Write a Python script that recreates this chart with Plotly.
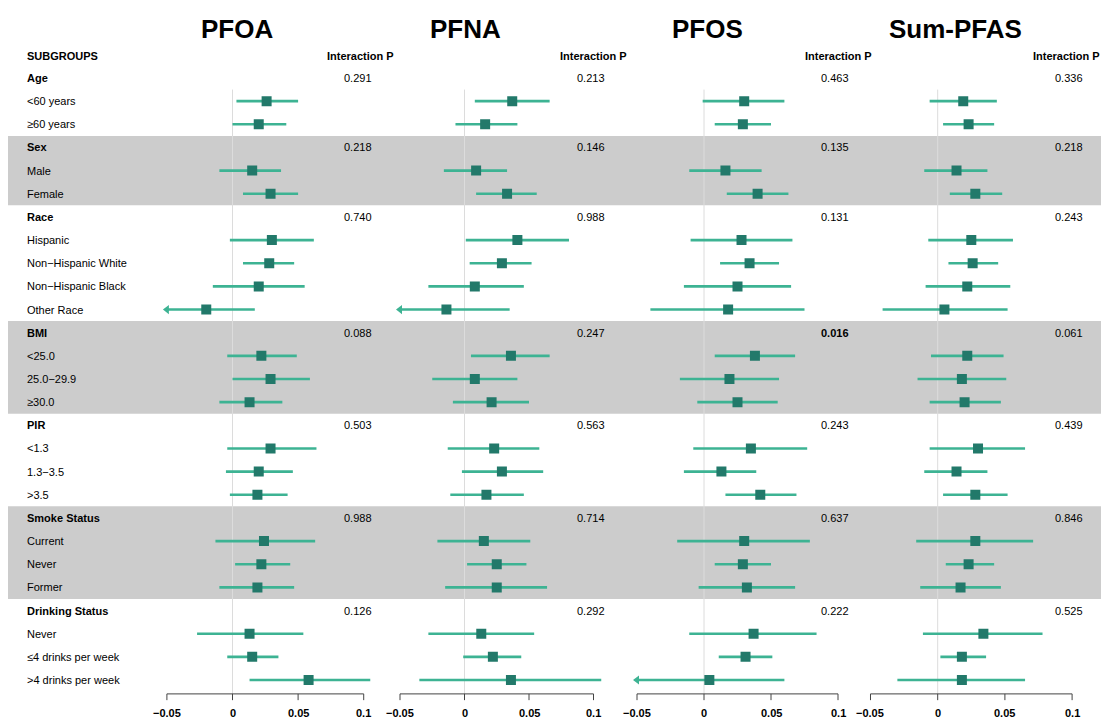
import plotly.graph_objects as go

# ---------------- data ----------------
groups = ["Age", "Sex", "Race", "BMI", "PIR", "Smoke Status", "Drinking Status"]
levels = [
    ["<60 years", "≥60 years"],
    ["Male", "Female"],
    ["Hispanic", "Non−Hispanic White", "Non−Hispanic Black", "Other Race"],
    ["<25.0", "25.0−29.9", "≥30.0"],
    ["<1.3", "1.3−3.5", ">3.5"],
    ["Current", "Never", "Former"],
    ["Never", "≤4 drinks per week", ">4 drinks per week"],
]
shaded_groups = ["Sex", "BMI", "Smoke Status"]

exposures = ["PFOA", "PFNA", "PFOS", "Sum-PFAS"]

pfoa_est = [0.026, 0.020, 0.015, 0.029, 0.030, 0.028, 0.020, -0.020, 0.022, 0.029, 0.013,
            0.029, 0.020, 0.019, 0.024, 0.022, 0.019, 0.013, 0.015, 0.058]
pfoa_lo = [0.003, 0.000, -0.010, 0.008, -0.002, 0.008, -0.015, -0.068, -0.004, 0.000, -0.010,
           -0.004, -0.005, -0.002, -0.013, 0.002, -0.010, -0.027, -0.004, 0.013]
pfoa_hi = [0.050, 0.041, 0.037, 0.050, 0.062, 0.047, 0.055, 0.017, 0.049, 0.059, 0.038,
           0.064, 0.046, 0.042, 0.063, 0.044, 0.047, 0.054, 0.035, 0.105]
pfoa_p = [0.291, 0.218, 0.740, 0.088, 0.503, 0.988, 0.126]

pfna_est = [0.037, 0.016, 0.009, 0.033, 0.041, 0.029, 0.008, -0.014, 0.036, 0.008, 0.021,
            0.023, 0.029, 0.017, 0.015, 0.025, 0.025, 0.013, 0.022, 0.036]
pfna_lo = [0.008, -0.007, -0.016, 0.009, 0.001, 0.004, -0.028, -0.065, 0.005, -0.025, -0.009,
           -0.013, -0.002, -0.011, -0.021, 0.002, -0.015, -0.028, -0.001, -0.035]
pfna_hi = [0.066, 0.041, 0.033, 0.056, 0.081, 0.052, 0.046, 0.035, 0.066, 0.041, 0.050,
           0.058, 0.061, 0.046, 0.051, 0.048, 0.064, 0.054, 0.044, 0.106]
pfna_p = [0.213, 0.146, 0.988, 0.247, 0.563, 0.714, 0.292]

pfos_est = [0.030, 0.029, 0.016, 0.040, 0.028, 0.034, 0.025, 0.018, 0.038, 0.019, 0.025,
            0.035, 0.013, 0.042, 0.030, 0.029, 0.032, 0.037, 0.031, 0.004]
pfos_lo = [-0.001, 0.008, -0.011, 0.017, -0.010, 0.012, -0.015, -0.040, 0.008, -0.018, -0.005,
           -0.008, -0.015, 0.016, -0.020, 0.008, -0.004, -0.011, 0.011, -0.062]
pfos_hi = [0.060, 0.050, 0.043, 0.063, 0.066, 0.056, 0.065, 0.075, 0.068, 0.056, 0.055,
           0.077, 0.039, 0.069, 0.079, 0.050, 0.068, 0.084, 0.051, 0.060]
pfos_p = [0.463, 0.135, 0.131, 0.016, 0.243, 0.637, 0.222]

sum_est = [0.019, 0.023, 0.014, 0.028, 0.025, 0.026, 0.022, 0.005, 0.022, 0.018, 0.020,
           0.030, 0.014, 0.028, 0.028, 0.023, 0.017, 0.034, 0.018, 0.018]
sum_lo = [-0.006, 0.004, -0.010, 0.009, -0.007, 0.008, -0.009, -0.041, -0.005, -0.015, -0.006,
          -0.006, -0.010, 0.004, -0.016, 0.006, -0.013, -0.011, 0.002, -0.030]
sum_hi = [0.044, 0.042, 0.037, 0.048, 0.056, 0.045, 0.054, 0.052, 0.049, 0.051, 0.047,
          0.065, 0.037, 0.052, 0.071, 0.042, 0.047, 0.078, 0.036, 0.065]
sum_p = [0.336, 0.218, 0.243, 0.061, 0.439, 0.846, 0.525]

tick_vals = [-0.05, 0, 0.05, 0.1]
tick_text = ["−0.05", "0", "0.05", "0.1"]

# ---------------- layout constants ----------------
OFF = 8  # page body margin of the browser
W, H = 1109 - OFF, 720 - OFF
FONT = "Liberation Sans, Arial, Helvetica, sans-serif"
LINE_C = "#3db393"
SQ_C = "#22796a"
BAND_C = "#cccccc"

# page-pixel position of x=0 and pixels per 0.05 for each panel
zero_px = [232.5, 464.5, 704.0, 937.7]
step_px = [65.6, 64.5, 67.0, 67.2]
XMIN, XMAX = -0.058, 0.112
title_px = [237, 465.5, 707, 955]
head_px = [360, 593, 838, 1066]
pval_px = [357.5, 591, 835, 1069]
label_px = 25

row0_px, row_h = 78.0 - OFF, 23.154
y_top = -row0_px / row_h
y_bot = (H - row0_px) / row_h


def px(v):
    return (v - OFF) / W


est_all = [pfoa_est, pfna_est, pfos_est, sum_est]
lo_all = [pfoa_lo, pfna_lo, pfos_lo, sum_lo]
hi_all = [pfoa_hi, pfna_hi, pfos_hi, sum_hi]
p_all = [pfoa_p, pfna_p, pfos_p, sum_p]

# row positions
group_rows, level_rows, labels = [], [], []
r = 0
for g, lv in zip(groups, levels):
    group_rows.append(r)
    labels.append((r, g, True))
    r += 1
    for l in lv:
        level_rows.append(r)
        labels.append((r, l, False))
        r += 1
last_row = r - 1
axis_y = last_row + 0.6

fig = go.Figure()
shapes, annotations = [], []

for k in range(4):
    xa = "x" if k == 0 else f"x{k+1}"
    lay = "xaxis" if k == 0 else f"xaxis{k+1}"
    left = zero_px[k] + XMIN / 0.05 * step_px[k]
    right = zero_px[k] + XMAX / 0.05 * step_px[k]
    fig.update_layout({lay: dict(domain=[px(left), px(right)], range=[XMIN, XMAX],
                                 visible=False, fixedrange=True)})

    # zero reference line
    shapes.append(dict(type="line", xref=xa, yref="y", x0=0, x1=0, y0=0.5, y1=axis_y,
                       line=dict(color="#dcdcdc", width=1), layer="below"))
    # axis line and ticks
    shapes.append(dict(type="line", xref=xa, yref="y", x0=tick_vals[0], x1=tick_vals[-1],
                       y0=axis_y, y1=axis_y, line=dict(color="#444444", width=1)))
    for tv, tt in zip(tick_vals, tick_text):
        shapes.append(dict(type="line", xref=xa, yref="y", x0=tv, x1=tv,
                           y0=axis_y, y1=axis_y + 0.27, line=dict(color="#444444", width=1)))
        annotations.append(dict(xref=xa, yref="y", x=tv, y=last_row + 1.43, text=f"<b>{tt}</b>",
                                showarrow=False, xanchor="center", yanchor="middle",
                                font=dict(family=FONT, size=11, color="#000")))

    # CI lines
    xs, ys, ax_, ay_ = [], [], [], []
    for row, e, lo, hi in zip(level_rows, est_all[k], lo_all[k], hi_all[k]):
        lo_c = max(lo, tick_vals[0])
        hi_c = min(hi, XMAX)
        xs += [lo_c, hi_c, None]
        ys += [row, row, None]
        if lo < tick_vals[0]:
            ax_.append(tick_vals[0])
            ay_.append(row)
    fig.add_trace(go.Scatter(x=xs, y=ys, mode="lines", xaxis=xa, yaxis="y",
                             line=dict(color=LINE_C, width=2.6), hoverinfo="skip",
                             showlegend=False))
    if ax_:
        fig.add_trace(go.Scatter(x=ax_, y=ay_, mode="markers", xaxis=xa, yaxis="y",
                                 marker=dict(symbol="triangle-left", size=8, color=LINE_C),
                                 hoverinfo="skip", showlegend=False))
    fig.add_trace(go.Scatter(x=est_all[k], y=level_rows, mode="markers", xaxis=xa, yaxis="y",
                             marker=dict(symbol="square", size=10, color=SQ_C,
                                         line=dict(width=0)),
                             showlegend=False))

    # titles and headers
    annotations.append(dict(xref="paper", yref="y", x=px(title_px[k]), y=-2.13,
                            text=f"<b>{exposures[k]}</b>", showarrow=False,
                            xanchor="center", yanchor="middle",
                            font=dict(family=FONT, size=26, color="#000")))
    annotations.append(dict(xref="paper", yref="y", x=px(head_px[k]), y=-0.95,
                            text="<b>Interaction P</b>", showarrow=False,
                            xanchor="center", yanchor="middle",
                            font=dict(family=FONT, size=11, color="#000")))
    for row, p in zip(group_rows, p_all[k]):
        txt = f"{p:.3f}"
        if p < 0.05:
            txt = f"<b>{txt}</b>"
        annotations.append(dict(xref="paper", yref="y", x=px(pval_px[k]), y=row,
                                text=txt, showarrow=False, xanchor="center",
                                yanchor="middle",
                                font=dict(family=FONT, size=11, color="#000")))

# shaded bands (drawn after zero lines so they cover them)
for g, gr, lv in zip(groups, group_rows, levels):
    if g in shaded_groups:
        shapes.append(dict(type="rect", xref="paper", yref="y", x0=0, x1=1,
                           y0=gr - 0.5, y1=gr + len(lv) + 0.5,
                           fillcolor=BAND_C, line=dict(width=0), layer="below"))

# row labels
annotations.append(dict(xref="paper", yref="y", x=px(label_px), y=-0.95, text="<b>SUBGROUPS</b>",
                        showarrow=False, xanchor="left", yanchor="middle",
                        font=dict(family=FONT, size=11, color="#000")))
for row, txt, is_g in labels:
    annotations.append(dict(xref="paper", yref="y", x=px(label_px), y=row,
                            text=f"<b>{txt}</b>" if is_g else txt,
                            showarrow=False, xanchor="left", yanchor="middle",
                            font=dict(family=FONT, size=11, color="#000")))

fig.update_layout(
    width=W, height=H,
    margin=dict(l=0, r=0, t=0, b=0),
    paper_bgcolor="white", plot_bgcolor="rgba(0,0,0,0)",
    yaxis=dict(domain=[0, 1], range=[y_bot, y_top], visible=False, fixedrange=True),
    shapes=shapes, annotations=annotations,
    showlegend=False,
)

fig.write_html(
    "out.html",
    post_script="document.documentElement.style.overflow='hidden';"
                "document.body.style.overflow='hidden';",
)
